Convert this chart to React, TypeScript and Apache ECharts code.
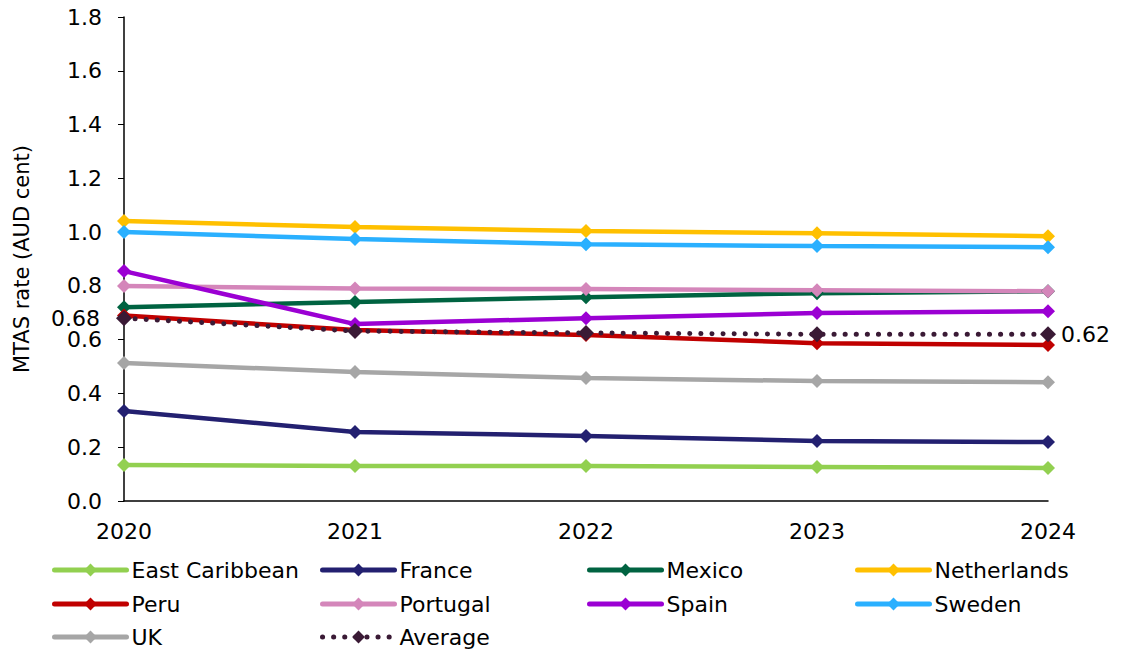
import React, { useEffect, useRef } from "react";
import * as echarts from "echarts";

const years = ["2020", "2021", "2022", "2023", "2024"];

const eastCaribbean = [0.134, 0.13, 0.13, 0.126, 0.123];
const france = [0.335, 0.257, 0.242, 0.223, 0.219];
const mexico = [0.721, 0.74, 0.758, 0.773, 0.78];
const netherlands = [1.041, 1.019, 1.004, 0.996, 0.985];
const peru = [0.69, 0.636, 0.617, 0.587, 0.58];
const portugal = [0.8, 0.79, 0.788, 0.784, 0.78];
const spain = [0.855, 0.658, 0.68, 0.699, 0.706];
const sweden = [1.0, 0.974, 0.955, 0.948, 0.944];
const uk = [0.513, 0.48, 0.457, 0.446, 0.442];
const average = [0.68, 0.632, 0.625, 0.62, 0.62];

const seriesDefs = [
  { name: "East Caribbean", data: eastCaribbean, color: "#92D050" },
  { name: "France", data: france, color: "#232070" },
  { name: "Mexico", data: mexico, color: "#006341" },
  { name: "Netherlands", data: netherlands, color: "#FFC000" },
  { name: "Peru", data: peru, color: "#C00000" },
  { name: "Portugal", data: portugal, color: "#D486BA" },
  { name: "Spain", data: spain, color: "#9B00D3" },
  { name: "Sweden", data: sweden, color: "#2AB0FF" },
  { name: "UK", data: uk, color: "#A6A6A6" },
  { name: "Average", data: average, color: "#3A1A35", dotted: true },
];

const FONT = "'DejaVu Sans', sans-serif";
const DOTS: number[] = [0.1, 11];

export default function App() {
  const ref = useRef<HTMLDivElement>(null);

  useEffect(() => {
    if (!ref.current) return;
    const chart = echarts.init(ref.current, null, { renderer: "svg" });

    const series = seriesDefs.map((s) => {
      const last = s.data.length - 1;
      return {
        name: s.name,
        type: "line",
        data: s.data.map((v, i) => {
          if (!s.dotted || (i !== 0 && i !== last)) return v;
          return {
            value: v,
            label: {
              show: true,
              position: i === 0 ? "left" : "right",
              distance: i === 0 ? 16 : 5,
              formatter: (p: any) => p.value.toFixed(2),
              fontSize: 22,
              color: "#000",
              fontFamily: FONT,
            },
          };
        }),
        symbol: "diamond",
        symbolSize: s.dotted ? 16 : 14,
        showSymbol: true,
        itemStyle: { color: s.color },
        lineStyle: {
          color: s.color,
          width: s.dotted ? 5 : 4.5,
          type: s.dotted ? DOTS : "solid",
          cap: "round",
        },
        z: s.dotted ? 5 : 2,
      };
    });

    // One legend block per entry, laid out in a 4-column grid
    const colX = [47, 315, 582, 850];
    const rowY = [553, 587, 620];
    const legends = seriesDefs.map((s, i) => ({
      data: [s.name],
      left: colX[i % 4],
      top: rowY[Math.floor(i / 4)],
      itemWidth: 72,
      itemHeight: 16,
      itemGap: 0,
      lineStyle: s.dotted
        ? { width: 5, type: DOTS, cap: "round" }
        : { width: 5 },
      textStyle: {
        fontSize: 22,
        lineHeight: 24,
        color: "#000",
        fontFamily: FONT,
      },
      selectedMode: false,
    }));

    chart.setOption({
      animation: false,
      backgroundColor: "#fff",
      grid: { left: 124, right: 73, top: 17, bottom: 149, containLabel: false },
      legend: legends,
      xAxis: {
        type: "category",
        data: years,
        boundaryGap: false,
        axisLine: { lineStyle: { color: "#000", width: 1.5 } },
        axisTick: { show: false },
        axisLabel: {
          fontSize: 22,
          color: "#000",
          fontFamily: FONT,
          margin: 19,
        },
      },
      yAxis: {
        type: "value",
        min: 0,
        max: 1.8,
        interval: 0.2,
        name: "MTAS rate (AUD cent)",
        nameLocation: "middle",
        nameGap: 92,
        nameTextStyle: { fontSize: 21, color: "#000", fontFamily: FONT },
        axisLine: { show: true, lineStyle: { color: "#000", width: 1.5 } },
        axisTick: { show: true, length: 6, lineStyle: { color: "#000" } },
        splitLine: { show: false },
        axisLabel: {
          fontSize: 22,
          color: "#000",
          fontFamily: FONT,
          margin: 22,
          formatter: (v: number) => v.toFixed(1),
        },
      },
      series,
    });

    return () => chart.dispose();
  }, []);

  return (
    <div
      ref={ref}
      style={{ position: "fixed", left: 0, top: 0, width: 1121, height: 650 }}
    />
  );
}
